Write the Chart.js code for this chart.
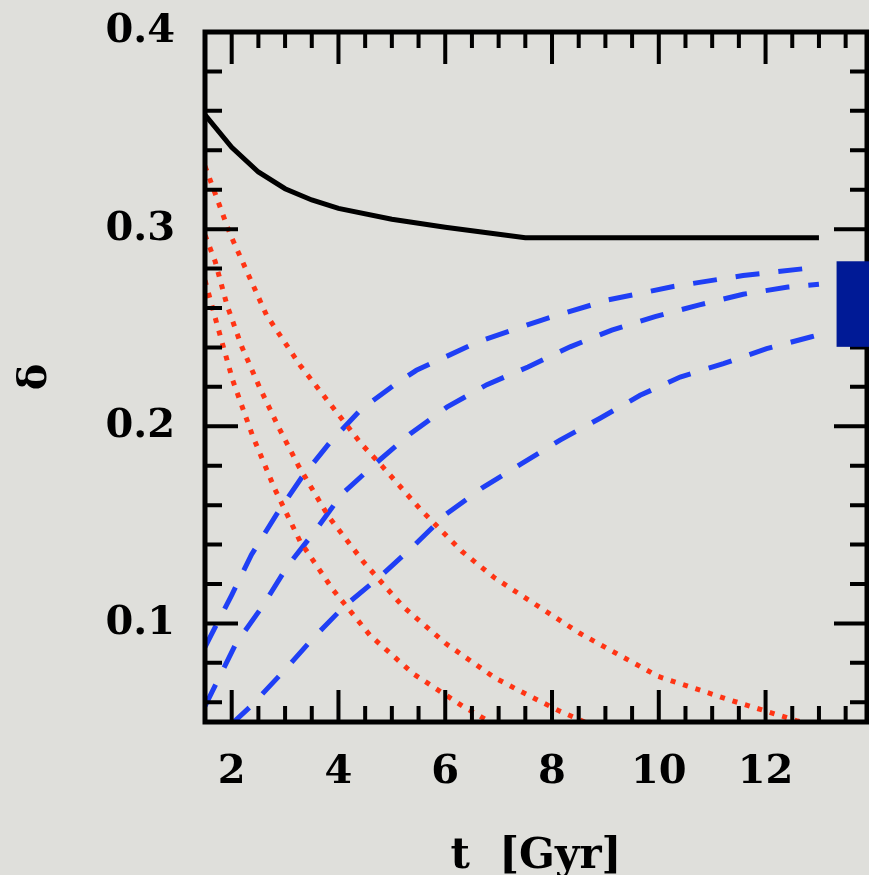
<!DOCTYPE html>
<html>
<head>
<meta charset="utf-8">
<script src="https://cdn.jsdelivr.net/npm/chart.js@4.4.1/dist/chart.umd.min.js"></script>
<style>
  html, body { margin: 0; padding: 0; background: #dfdfdb; }
  #chart { display: block; }
</style>
</head>
<body>
<canvas id="chart" width="869" height="875"></canvas>
<script>
// delta(t) curves
const blackT     = [1.5, 2.0, 2.5, 3.0, 3.5, 4.0, 5.0, 6.0, 7.5, 13.0];
const blackDelta = [0.358, 0.3415, 0.329, 0.3205, 0.3148, 0.3105, 0.305, 0.301, 0.2956, 0.2956];

const red1T     = [1.5, 1.97, 2.65, 3.28, 4.43, 4.81, 5.53, 6.31, 6.93, 8.52, 9.99, 11.27, 12.6, 12.8];
const red1Delta = [0.332, 0.2975, 0.2565, 0.231, 0.191, 0.18, 0.158, 0.1366, 0.123, 0.095, 0.0731, 0.0617, 0.0505, 0.049];
const red2T     = [1.5, 1.69, 1.91, 2.19, 2.52, 2.87, 3.25, 3.81, 4.46, 5.21, 6.03, 6.93, 7.4, 8.12, 8.7];
const red2Delta = [0.297, 0.2837, 0.2616, 0.2403, 0.2199, 0.2, 0.18, 0.1544, 0.1315, 0.1085, 0.0894, 0.0724, 0.0657, 0.0558, 0.049];
const red3T     = [1.5, 1.72, 2.02, 2.39, 2.81, 3.28, 3.9, 4.59, 5.4, 6.34, 6.9];
const red3Delta = [0.274, 0.2522, 0.2233, 0.1953, 0.168, 0.1417, 0.117, 0.094, 0.0745, 0.0578, 0.049];

const blue1T     = [1.5, 2.0, 2.37, 2.84, 3.31, 3.84, 4.43, 5.12, 5.46, 6.62, 7.81, 9.05, 10.27, 11.58, 13.0];
const blue1Delta = [0.088, 0.1144, 0.1349, 0.1553, 0.174, 0.1918, 0.2088, 0.2224, 0.2284, 0.2429, 0.2539, 0.2641, 0.2709, 0.2765, 0.2808];
const blue2T     = [1.5, 2.08, 2.58, 3.04, 3.56, 4.06, 4.68, 5.34, 6.03, 6.78, 7.55, 8.34, 9.12, 9.93, 10.76, 11.58, 12.42, 13.0];
const blue2Delta = [0.058, 0.0898, 0.1088, 0.1289, 0.1468, 0.1655, 0.1808, 0.1961, 0.2097, 0.2211, 0.2301, 0.2403, 0.2488, 0.2556, 0.2616, 0.267, 0.2706, 0.2721];
const blue3T     = [2.0, 2.37, 2.96, 3.52, 4.1, 4.78, 5.4, 6.01, 6.7, 7.43, 8.15, 8.9, 9.65, 10.4, 11.21, 12.02, 12.86, 13.0];
const blue3Delta = [0.049, 0.0583, 0.0754, 0.0923, 0.1085, 0.1238, 0.1391, 0.1553, 0.1689, 0.1811, 0.193, 0.2041, 0.2157, 0.225, 0.2318, 0.2394, 0.2454, 0.2464];

// observed band at the right edge
const obsTStart = 13.33;
const obsDelta = [0.2403, 0.2837];

const xTickValues = [2, 4, 6, 8, 10, 12];
const yTickValues = [0.1, 0.2, 0.3, 0.4];

const pts = (ts, ds) => ts.map((t, i) => ({x: t, y: ds[i]}));
const font = {family: 'DejaVu Serif', size: 40, weight: 'bold'};

function curve(ts, ds, color, dash) {
  return {
    data: pts(ts, ds),
    borderColor: color,
    borderWidth: 5,
    borderDash: dash,
    borderCapStyle: 'butt',
    pointRadius: 0,
    tension: 0,
    fill: false
  };
}

// box + inward ticks on all four sides, then the observed band on top
const frameTicks = {
  id: 'frameTicks',
  afterDatasetsDraw(chart) {
    const {ctx, chartArea: a, scales: {x, y}} = chart;
    ctx.save();
    ctx.strokeStyle = '#000';
    ctx.lineWidth = 4;
    ctx.beginPath();
    for (let v = x.min; v <= x.max; v += 0.5) {
      const px = x.getPixelForValue(v);
      const len = xTickValues.includes(v) ? 32 : 16;
      ctx.moveTo(px, a.bottom); ctx.lineTo(px, a.bottom - len);
      ctx.moveTo(px, a.top); ctx.lineTo(px, a.top + len);
    }
    for (let k = 3; k <= 19; k++) {
      const py = y.getPixelForValue(k * 2 / 100);
      const len = k % 5 === 0 ? 33 : 17;
      ctx.moveTo(a.left, py); ctx.lineTo(a.left + len, py);
      ctx.moveTo(a.right, py); ctx.lineTo(a.right - len, py);
    }
    ctx.stroke();
    ctx.lineWidth = 5;
    ctx.strokeRect(a.left, a.top, a.right - a.left, a.bottom - a.top);

    const x0 = x.getPixelForValue(obsTStart);
    const yTop = y.getPixelForValue(obsDelta[1]);
    const yBot = y.getPixelForValue(obsDelta[0]);
    ctx.fillStyle = '#001a96';
    ctx.fillRect(x0, yTop, chart.width - x0, yBot - yTop);
    ctx.restore();
  }
};

new Chart(document.getElementById('chart'), {
  type: 'line',
  data: {
    datasets: [
      curve(blackT, blackDelta, '#000000', []),
      curve(red1T, red1Delta, '#ff3414', [5, 8]),
      curve(red2T, red2Delta, '#ff3414', [5, 8]),
      curve(red3T, red3Delta, '#ff3414', [5, 8]),
      curve(blue1T, blue1Delta, '#1f3ff5', [24, 19]),
      curve(blue2T, blue2Delta, '#1f3ff5', [24, 19]),
      curve(blue3T, blue3Delta, '#1f3ff5', [24, 19])
    ]
  },
  options: {
    responsive: false,
    animation: false,
    layout: {padding: {left: 0, top: 32, right: 2, bottom: 0}},
    plugins: {legend: {display: false}, tooltip: {enabled: false}},
    scales: {
      x: {
        type: 'linear',
        min: 1.5,
        max: 13.9,
        grid: {display: false, drawTicks: false},
        border: {display: false},
        afterBuildTicks: s => { s.ticks = xTickValues.map(v => ({value: v})); },
        afterFit: s => { s.height = 153; s.paddingLeft = 0; s.paddingRight = 0; },
        ticks: {font, color: '#000', padding: 27, maxRotation: 0, autoSkip: false,
                callback: v => String(v)},
        title: {display: true, text: 't  [Gyr]', color: '#000', padding: {top: 0, bottom: 0},
                font: {family: 'DejaVu Serif', size: 42, weight: 'bold', lineHeight: 0.85}}
      },
      y: {
        type: 'linear',
        min: 0.05,
        max: 0.4,
        grid: {display: false, drawTicks: false},
        border: {display: false},
        afterBuildTicks: s => { s.ticks = yTickValues.map(v => ({value: v})); },
        afterFit: s => { s.width = 205; s.paddingTop = 0; s.paddingBottom = 0; },
        ticks: {font, color: '#000', padding: 30, autoSkip: false,
                callback: v => v.toFixed(1)},
        title: {display: true, text: 'δ', font, color: '#000', padding: {top: 12, bottom: 0}}
      }
    }
  },
  plugins: [frameTicks]
});
</script>
</body>
</html>
